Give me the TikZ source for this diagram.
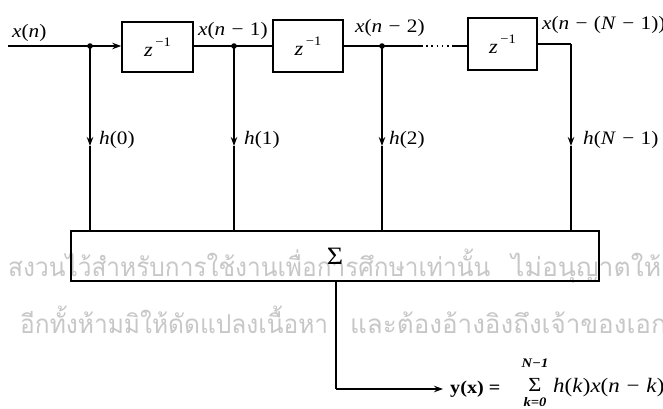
\documentclass[tikz,border=0pt]{standalone}
\usepackage{graphicx}
\usepackage{fontspec}
\setmainfont{Liberation Serif}[FakeStretch=1.12]
\newfontfamily\thaifont[Script=Thai]{Loma}
\newcommand\vi[1]{\textit{#1}}
\newcommand\ms{\hspace{0.33em}−\hspace{0.33em}}
\newcommand\zinv{\vi{z}\hspace{0.12em}\raisebox{0.5em}{\fontsize{13}{15}\selectfont −1}}
\usetikzlibrary{arrows.meta}
\tikzset{
  lbl/.style={font=\fontsize{19}{22}\selectfont, inner sep=0pt},
  dbox/.style={draw, line width=1.6pt, font=\fontsize{20}{23}\selectfont, inner sep=0pt},
  wire/.style={line width=1.2pt},
  arr/.style={wire, -{Stealth[length=9pt,width=6.5pt]}},
  wmark/.style={text=black!22, inner sep=0pt, font=\thaifont\fontsize{26}{30}\selectfont}
}
\begin{document}
\begin{tikzpicture}[x=1pt,y=-1pt]
\useasboundingbox (0,0) rectangle (663,409);
\clip (0,0) rectangle (663,409);
% watermark
\node[wmark, anchor=base west] (wm1a) at (8,276) {\resizebox{482pt}{\height}{สงวนไว้สำหรับการใช้งานเพื่อการศึกษาเท่านั้น}};
\node[wmark, anchor=base west] (wm1b) at (511,276) {\resizebox{150pt}{\height}{ไม่อนุญาตให้}};
\node[wmark, anchor=base west] (wm2a) at (20,333) {\resizebox{308pt}{\height}{อีกทั้งห้ามมิให้ดัดแปลงเนื้อหา}};
\node[wmark, anchor=base west] (wm2b) at (350,333) {\scalebox{1.0}[1]{และต้องอ้างอิงถึงเจ้าของเอกสาร}};
% boxes
\node[dbox, minimum width=71pt, minimum height=50pt] (b1) at (157.5,47) {\zinv};
\node[dbox, minimum width=70pt, minimum height=52pt] (b2) at (308,46) {\zinv};
\node[dbox, minimum width=69pt, minimum height=52pt] (b3) at (502.5,44) {\zinv};
\node[draw, line width=1.6pt, minimum width=528pt, minimum height=50pt, inner sep=0pt,
      font=\fontsize{25}{28}\selectfont] (sum) at (335,256) {Σ};
% coordinates
\coordinate (in) at (8,46);
\coordinate (j1) at (90,46);
\coordinate (j2) at (234,46);
\coordinate (j3) at (382,46);
\coordinate (d1) at (421,46);
\coordinate (d2) at (454,46);
\coordinate (c3) at (571,44);
\coordinate (a0) at (90,146);
\coordinate (a1) at (234,146);
\coordinate (a2) at (382,146);
\coordinate (a3) at (571,146);
\coordinate (oc) at (336,389);
\coordinate (oe) at (443,389);
% horizontal chain
\draw[wire] (in) -- (j1);
\draw[arr] (j1) -- (b1.west |- j1);
\draw[wire] (b1.east |- j2) -- (j2) -- (b2.west |- j2);
\draw[wire] (b2.east |- j3) -- (j3) -- (d1);
\draw[wire, line width=1.6pt, dash pattern=on 1.6pt off 3.6pt] (d1) -- (d2);
\draw[wire] (d2) -- (b3.west |- d2);
\draw[wire] (b3.east |- c3) -- (c3);
% junction dots
\foreach \j in {j1,j2,j3} \fill (\j) circle (2.8pt);
% verticals
\draw[arr] (j1) -- (a0);
\draw[wire] (a0) -- (a0 |- sum.north);
\draw[arr] (j2) -- (a1);
\draw[wire] (a1) -- (a1 |- sum.north);
\draw[arr] (j3) -- (a2);
\draw[wire] (a2) -- (a2 |- sum.north);
\draw[arr] (c3) -- (a3);
\draw[wire] (a3) -- (a3 |- sum.north);
% output
\draw[wire] (sum.south -| oc) -- (oc);
\draw[arr] (oc) -- (oe);
% labels
\node[lbl, anchor=west] (lx) at (12,33) {\vi{x}(\vi{n})};
\node[lbl, anchor=west] (lx1) at (198,31) {\vi{x}(\vi{n}\ms1)};
\node[lbl, anchor=west] (lx2) at (355,28) {\vi{x}(\vi{n}\ms2)};
\node[lbl, anchor=west] (lx3) at (542,25) {\vi{x}(\vi{n}\ms(\vi{N}\ms1))};
\node[lbl, anchor=west] (h0) at (99,140) {\vi{h}(0)};
\node[lbl, anchor=west] (h1) at (244,140) {\vi{h}(1)};
\node[lbl, anchor=west] (h2) at (389,140) {\vi{h}(2)};
\node[lbl, anchor=west] (h3) at (583,140) {\vi{h}(\vi{N}\ms1)};
% output formula
\node[lbl, anchor=west, font=\bfseries\fontsize{18}{21}\selectfont] (yx) at (450,389) {y(x) =};
\node[inner sep=0pt, font=\fontsize{20}{22}\selectfont] (sig) at (535,385) {Σ};
\node[inner sep=0pt, font=\bfseries\itshape\fontsize{13}{15}\selectfont] (up) at (535,363) {N−1};
\node[inner sep=0pt, font=\bfseries\itshape\fontsize{13}{15}\selectfont] (lo) at (535,402) {k=0};
\node[lbl, anchor=west, font=\fontsize{20.5}{23}\selectfont] (hx) at (553,388) {\vi{h}(\vi{k})\vi{x}(\vi{n}\ms\vi{k})};
\end{tikzpicture}
\end{document}
